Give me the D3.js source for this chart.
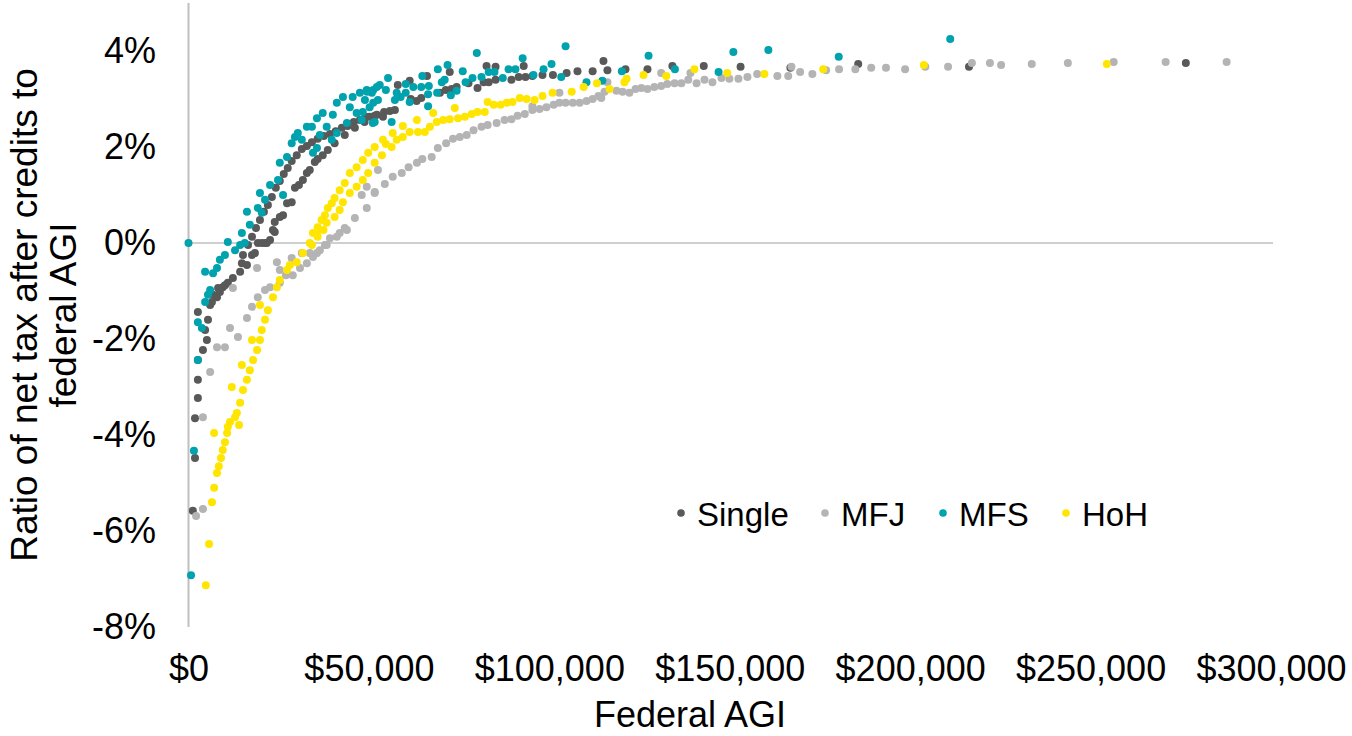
<!DOCTYPE html>
<html>
<head>
<meta charset="utf-8">
<script src="https://cdn.jsdelivr.net/npm/d3@7"></script>
<style>
  html, body { margin: 0; padding: 0; background: #fff; }
  svg { display: block; font-family: "Liberation Sans", Arial, sans-serif; }
</style>
</head>
<body>
<svg id="chart" width="1352" height="736"></svg>
<script>
// Federal AGI in $ thousands, ratio of net tax after credits to federal AGI in %
const single = [
  [1.2,-5.58],[1.8,-4.48],[1.8,-3.65],[2.6,-3.23],[2.6,-2.85],[2.6,-2.44],[4.0,-2.23],[4.6,-1.81],
  [5.1,-2.02],[5.4,-1.6],[2.6,-1.44],[6.0,-1.29],[6.5,-1.23],[6.8,-1.08],[7.9,-1.13],[8.2,-0.94],
  [8.7,-1.02],[9.5,-0.92],[10.1,-0.88],[10.9,-0.83],[12.3,-0.73],[14.3,-0.6],[14.8,-0.42],[16.2,-0.46],
  [17.6,-0.25],[18.4,-0.21],[19.2,0],[20.3,0],[21.2,0],[21.7,0],[22.6,0.06],[23.4,0.27],
  [23.9,0.23],[23.9,0.44],[25.3,0.54],[26.2,0.58],[27.3,0.83],[28.6,0.85],[29.5,1.15],[30.6,1.21],
  [31.7,1.31],[32.8,1.46],[33.6,1.52],[35.0,1.69],[35.8,1.75],[37.2,1.83],[38.6,1.94],[40.5,2.08],
  [43.3,2.25],[46.1,2.4],[48.8,2.52],
  [15.1,-0.25],[16.5,-0.04],[17.6,0.13],[18.7,0.31],[19.8,0.48],[20.9,0.65],[22.0,0.79],[23.1,0.96],
  [24.2,1.15],[25.3,1.29],[26.4,1.44],[27.5,1.56],[28.6,1.71],[30.0,1.83],[31.4,1.96],[32.8,2.02],
  [34.2,2.1],[35.8,2.17],[37.5,2.23],[39.2,2.27],[40.8,2.33],[42.5,2.4],[44.1,2.44],[45.8,2.52],
  [47.5,2.56],[49.1,2.63],[50.2,2.63],[51.6,2.65],[52.2,2.67],[53.9,2.63],[54.2,2.73],[55.8,2.75],
  [57.2,2.77],[58.0,3.29],[61.3,3.38],[61.6,3.0],[63.2,2.96],[64.5,3.02],[66.1,3.48],[69.7,3.13],
  [71.3,3.19],[72.9,3.21],[74.3,3.25],[72.4,3.56],[77.6,3.33],[80.1,3.23],[81.8,3.35],[82.6,3.69],
  [83.2,3.35],[85.1,3.4],[85.1,3.67],[89.5,3.4],[91.5,3.46],[92.9,3.69],[93.4,3.46],[95.3,3.48],
  [98.1,3.5],[101.0,3.5],[104.8,3.54],[107.8,3.58],[112.0,3.58],[115.0,3.79],[116.1,3.6],[121.1,3.62],
  [127.2,3.62],[134.1,3.69],[142.8,3.69],[153.0,3.67],[166.8,3.65],[185.6,3.73],[216.3,3.67],[276.4,3.75]
];

const mfj = [
  [2.1,-5.69],[4.0,-5.54],[4.0,-3.63],[6.0,-2.69],[7.9,-2.17],[10.1,-2.17],[11.5,-1.77],[13.7,-1.96],
  [12.3,-0.94],[16.2,-1.56],[17.6,-1.33],[19.2,-1.13],[21.2,-0.98],[19.0,-0.52],[22.6,-0.92],[24.5,-0.4],
  [25.3,-0.83],[25.3,-0.56],[27.0,-0.67],[28.9,-0.67],[30.9,-0.52],[32.8,-0.42],[34.5,-0.29],[36.4,-0.15],
  [37.8,-0.04],[39.2,0.1],[41.9,0.21],[43.3,0.31],[46.1,0.52],[49.4,0.73],[51.6,1.06],[52.5,1.52],
  [28.6,-0.31],[31.4,-0.21],[33.6,-0.21],[35.6,-0.21],[38.3,-0.04],[41.1,0.13],[43.9,0.27],
  [48.0,1.0],[49.4,1.17],[51.6,1.04],[54.4,1.23],[56.6,1.38],[59.1,1.46],[61.0,1.58],[63.3,1.67],
  [64.8,1.75],[67.4,1.79],[69.1,1.98],[71.4,2.08],[73.3,2.17],[75.2,2.21],[77.1,2.25],[79.0,2.35],
  [81.2,2.42],[82.9,2.46],[85.4,2.5],[87.6,2.56],[89.5,2.58],[91.2,2.65],[93.2,2.69],[95.3,2.77],
  [95.3,2.85],[97.3,2.79],[99.2,2.83],[101.2,2.88],[102.8,2.92],[102.8,3.13],[104.5,2.92],[106.5,2.92],
  [108.4,2.92],[110.3,2.96],[112.0,3.0],[113.6,3.06],[114.4,3.02],[115.3,3.15],[116.1,3.35],[118.6,3.17],
  [120.3,3.15],[122.2,3.13],[123.9,3.21],[125.5,3.23],[127.2,3.21],[129.1,3.25],[131.0,3.27],[131.0,3.54],
  [132.7,3.31],[134.7,3.33],[136.6,3.33],[138.5,3.4],[139.1,3.54],[140.8,3.33],[143.0,3.4],[145.2,3.35],
  [147.7,3.44],[149.9,3.42],[152.4,3.42],[154.9,3.46],[157.6,3.52],[163.2,3.48],[166.2,3.48],[167.1,3.67],
  [169.5,3.56],[172.9,3.52],[176.7,3.6],[180.3,3.62],[184.8,3.62],[189.2,3.65],[193.3,3.65],[198.6,3.62],
  [204.2,3.67],[210.5,3.67],[217.1,3.75],[222.1,3.75],[225.2,3.71],[233.7,3.73],[243.7,3.75],[256.4,3.77],
  [270.8,3.77],[287.7,3.77]
];

const mfs = [
  [0,0],[0.7,-6.92],[1.5,-4.33],[2.6,-2.44],[2.6,-1.65],[3.7,-1.77],[4.6,-1.23],[5.4,-1.08],
  [6.0,-0.98],[4.6,-0.6],[6.8,-0.63],[7.9,-0.52],[8.7,-0.35],[10.1,-0.25],[10.9,0.02],[12.9,-0.15],
  [14.3,-0.04],[14.8,0.21],[15.6,0],[16.2,0.65],[17.0,0.38],[19.2,0.73],[20.3,0.63],[19.8,1.04],
  [21.2,0.9],[22.6,1.21],[24.8,1.31],[26.2,1.0],[25.3,1.67],[27.3,1.79],[28.6,2.08],[29.5,2.21],
  [30.3,2.29],[31.4,2.15],[32.8,2.42],[34.2,2.42],[35.6,2.6],[37.2,2.71],[38.3,2.42],[40.0,2.67],
  [41.1,2.92],[42.8,3.04],[44.7,2.83],[45.5,3.04],[47.5,3.13],[49.4,3.19],[50.8,3.13],[52.2,3.25],
  [41.1,2.29],[39.7,2.15],[35.6,1.98],[34.5,1.88],[36.4,2.25],[46.6,2.71],[48.0,2.56],[51.1,2.5],
  [43.9,2.5],[48.3,2.73],[48.9,2.98],[49.5,3.15],[50.2,2.83],[51.2,3.19],[51.2,2.92],[51.6,2.52],
  [52.5,2.98],[53.0,3.29],[54.7,3.19],[55.3,3.44],[56.3,2.52],[57.2,2.98],[57.7,3.13],[58.8,3.04],
  [60.2,3.31],[60.2,3.13],[61.3,2.94],[62.3,3.25],[64.5,3.25],[64.8,3.48],[66.4,3.1],[66.4,2.85],
  [66.6,3.27],[68.9,3.13],[69.1,3.62],[70.2,3.35],[71.0,3.4],[71.8,3.71],[72.7,3.08],[74.3,3.17],
  [76.0,3.58],[76.8,3.35],[78.7,3.44],[79.9,3.96],[81.2,3.46],[83.2,3.56],[84.8,3.56],[87.1,3.44],
  [88.7,3.62],[90.6,3.62],[92.6,3.85],[95.6,3.5],[98.4,3.62],[100.6,3.73],[103.3,3.46],[104.5,4.1],
  [110.3,3.35],[114.7,3.38],[120.1,3.58],[127.5,3.9],[134.8,3.62],[146.9,3.56],[151.0,3.98],[160.7,4.02],
  [180.2,3.88],[211.1,4.25]
];

const hoh = [
  [4.8,-7.13],[5.7,-6.27],[6.5,-5.4],[7.1,-5.1],[7.9,-4.79],[8.4,-4.65],[9.0,-4.48],[9.5,-4.31],
  [10.1,-4.15],[7.1,-3.96],[10.7,-3.96],[10.9,-3.83],[11.5,-3.73],[14.0,-3.79],[12.0,-3.0],[12.9,-3.63],
  [13.4,-3.54],[14.3,-3.33],[15.1,-3.06],[14.8,-2.54],[16.2,-2.85],[17.0,-2.65],[17.9,-2.44],[17.6,-2.02],
  [19.0,-2.23],[19.8,-2.02],[20.3,-1.81],[21.2,-1.6],[22.0,-1.4],[19.8,-1.29],[23.4,-1.13],[24.5,-0.92],
  [25.3,-0.77],[27.3,-0.56],[28.1,-0.46],[30.0,-0.4],[31.7,-0.21],[33.6,0],[34.2,-0.04],[35.6,0.23],
  [34.5,0.21],[35.8,0.33],[35.8,0.13],[36.9,0.48],[37.4,0.27],[37.8,0.58],[38.3,0.42],[38.6,0.73],
  [39.7,0.83],[40.5,0.94],[40.5,0.54],[41.9,1.1],[41.9,0.69],[42.8,0.85],[43.3,1.25],[44.7,1.46],
  [44.7,1.04],[46.6,1.58],[46.6,1.17],[48.3,1.73],[48.3,1.31],[49.8,1.88],[49.8,1.46],[51.6,1.67],
  [51.6,2.0],[53.6,1.83],[53.9,2.15],[54.7,2.06],[56.3,2.0],[56.6,2.29],[57.7,2.15],[59.4,2.44],
  [59.4,2.21],[61.3,2.31],[63.3,2.56],[63.6,2.31],[65.5,2.31],[66.9,2.42],[67.8,2.71],[68.8,2.52],
  [70.6,2.56],[72.4,2.58],[73.8,2.81],[74.7,2.6],[76.6,2.63],[78.5,2.69],[80.1,2.73],[82.1,2.73],
  [82.9,2.94],[84.6,2.88],[86.5,2.88],[88.2,2.92],[89.8,2.94],[91.8,3.02],[93.7,3.0],[95.9,2.98],
  [98.1,3.06],[100.9,3.13],[106.2,3.15],[109.5,3.25],[113.2,3.33],[116.7,3.21],[120.8,3.35],[121.4,3.42],
  [126.1,3.5],[132.4,3.48],[140.2,3.62],[149.3,3.54],[159.6,3.52],[175.9,3.62],[203.8,3.71],[254.5,3.73]
];

const seriesNames = ["Single", "MFJ", "MFS", "HoH"];
const seriesColors = ["#595959", "#b4b4b4", "#00a2ad", "#ffe500"];
const seriesData = [single, mfj, mfs, hoh];

const xTicks = [0, 50, 100, 150, 200, 250, 300];
const yTicks = [-8, -6, -4, -2, 0, 2, 4];

const svg = d3.select("#chart");

const x = d3.scaleLinear().domain([0, 300]).range([188.5, 1271]);
const y = d3.scaleLinear().domain([-8, 5]).range([627, 3]);

const fmtMoney = d => "$" + d3.format(",")(d * 1000);
const fmtPct = d => d + "%";

// vertical value axis line
svg.append("line")
  .attr("x1", x(0)).attr("x2", x(0))
  .attr("y1", y(5)).attr("y2", y(-8))
  .attr("stroke", "#bfbfbf").attr("stroke-width", 2);

// horizontal category axis crossing at 0%
svg.append("line")
  .attr("x1", x(0)).attr("x2", 1273)
  .attr("y1", y(0)).attr("y2", y(0))
  .attr("stroke", "#bfbfbf").attr("stroke-width", 1.5);

// y tick labels
const yAxis = d3.axisLeft(y).tickValues(yTicks).tickFormat(fmtPct).tickSize(0).tickPadding(0);
const yG = svg.append("g").attr("transform", "translate(156,0)").call(yAxis);
yG.select(".domain").remove();
yG.selectAll("text")
  .attr("font-size", 36).attr("fill", "#000")
  .attr("font-family", "Liberation Sans, Arial, sans-serif");

// x tick labels along the bottom
const xAxis = d3.axisBottom(x).tickValues(xTicks).tickFormat(fmtMoney).tickSize(0).tickPadding(0);
const xG = svg.append("g").attr("transform", "translate(0,655)").call(xAxis);
xG.select(".domain").remove();
xG.selectAll("text")
  .attr("font-size", 36).attr("fill", "#000")
  .attr("font-family", "Liberation Sans, Arial, sans-serif");

// axis titles
svg.append("text")
  .attr("x", 690).attr("y", 727)
  .attr("text-anchor", "middle")
  .attr("font-size", 36)
  .text("Federal AGI");

const yTitle = svg.append("text")
  .attr("transform", "translate(24,315) rotate(-90)")
  .attr("text-anchor", "middle")
  .attr("font-size", 37);
yTitle.append("tspan").attr("x", 0).attr("dy", "0.35em").text("Ratio of net tax after credits to");
yTitle.append("tspan").attr("x", 0).attr("dy", "1.05em").text("federal AGI");

// scatter points, one layer per filing status
seriesData.forEach((data, i) => {
  svg.append("g")
    .selectAll("circle")
    .data(data)
    .join("circle")
    .attr("cx", d => x(d[0]))
    .attr("cy", d => y(d[1]))
    .attr("r", 4)
    .attr("fill", seriesColors[i]);
});

// legend
const legendX = [681, 825, 943, 1066];
const legend = svg.append("g");
seriesNames.forEach((name, i) => {
  legend.append("circle")
    .attr("cx", legendX[i]).attr("cy", 513).attr("r", 3.8)
    .attr("fill", seriesColors[i]);
  legend.append("text")
    .attr("x", legendX[i] + 16).attr("y", 526)
    .attr("font-size", 33)
    .text(name);
});
</script>
</body>
</html>
